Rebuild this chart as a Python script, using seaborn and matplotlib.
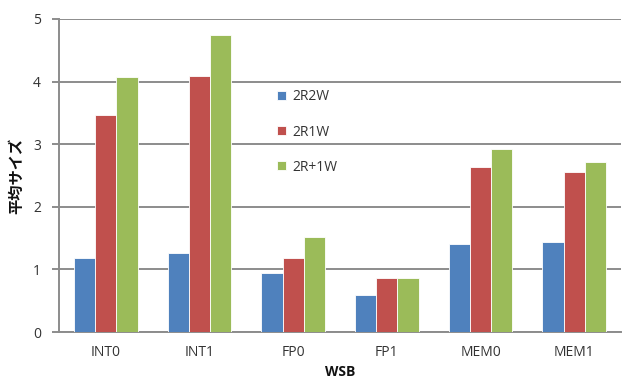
import matplotlib
matplotlib.use("Agg")
import matplotlib.pyplot as plt
import seaborn as sns
import pandas as pd
import numpy as np

categories = ["INT0", "INT1", "FP0", "FP1", "MEM0", "MEM1"]
series_names = ["2R2W", "2R1W", "2R+1W"]
vals_2r2w = [1.19, 1.26, 0.94, 0.59, 1.41, 1.43]
vals_2r1w = [3.47, 4.09, 1.19, 0.87, 2.64, 2.56]
vals_2rp1w = [4.07, 4.74, 1.52, 0.87, 2.92, 2.72]
colors = ["#4F81BD", "#C0504D", "#9BBB59"]

rows = []
for name, vals in zip(series_names, [vals_2r2w, vals_2r1w, vals_2rp1w]):
    for c, v in zip(categories, vals):
        rows.append({"WSB": c, "series": name, "value": v})
df = pd.DataFrame(rows)

sns.set_theme(style="white")
plt.rcParams["font.family"] = ["Open Sans", "Noto Sans CJK JP", "DejaVu Sans"]

fig = plt.figure(figsize=(6.24, 3.8), dpi=100)
ax = fig.add_axes([0.0946, 0.1263, 0.9006, 0.8237])

sns.barplot(data=df, x="WSB", y="value", hue="series", palette=colors,
            order=categories, hue_order=series_names, width=0.68, gap=0,
            saturation=1, edgecolor="white", linewidth=0.6, ax=ax, zorder=3)

grid_c = "#8c8c8c"
txt_c = "#333333"
fs = 10
ax.set_ylim(0, 5)
ax.set_xlim(-0.5, len(categories) - 0.5)
ax.set_yticks(range(0, 6))
ax.yaxis.grid(True, color=grid_c, linewidth=1.4, zorder=0)
ax.set_axisbelow(True)
for s in ["top", "right"]:
    ax.spines[s].set_visible(False)
for s in ["left", "bottom"]:
    ax.spines[s].set_color(grid_c)
    ax.spines[s].set_linewidth(1.4)

# category separators as minor ticks on the x axis
ax.set_xticks(np.arange(-0.5, len(categories)), minor=True)
ax.tick_params(axis="x", which="major", length=0, pad=9, labelsize=fs, colors=txt_c)
ax.tick_params(axis="x", which="minor", length=5, width=1.4, color=grid_c, direction="out")
ax.tick_params(axis="y", which="major", length=5, width=1.4, color=grid_c, direction="out",
               left=True, labelsize=fs, pad=8, labelcolor=txt_c)

ax.set_xlabel("WSB", fontsize=fs, fontweight="bold", labelpad=4, color="#111111")
ax.set_ylabel("平均サイズ", fontsize=11, fontweight="bold", labelpad=6, color="#111111",
              family=["Noto Sans CJK JP", "DejaVu Sans"])

leg = ax.legend(loc="upper left", bbox_to_anchor=(0.365, 0.815), frameon=False,
                fontsize=fs, labelspacing=1.45, handlelength=0.65, handleheight=0.65,
                handletextpad=0.45)
for t in leg.get_texts():
    t.set_color(txt_c)

fig.savefig("out.png", dpi=100)
